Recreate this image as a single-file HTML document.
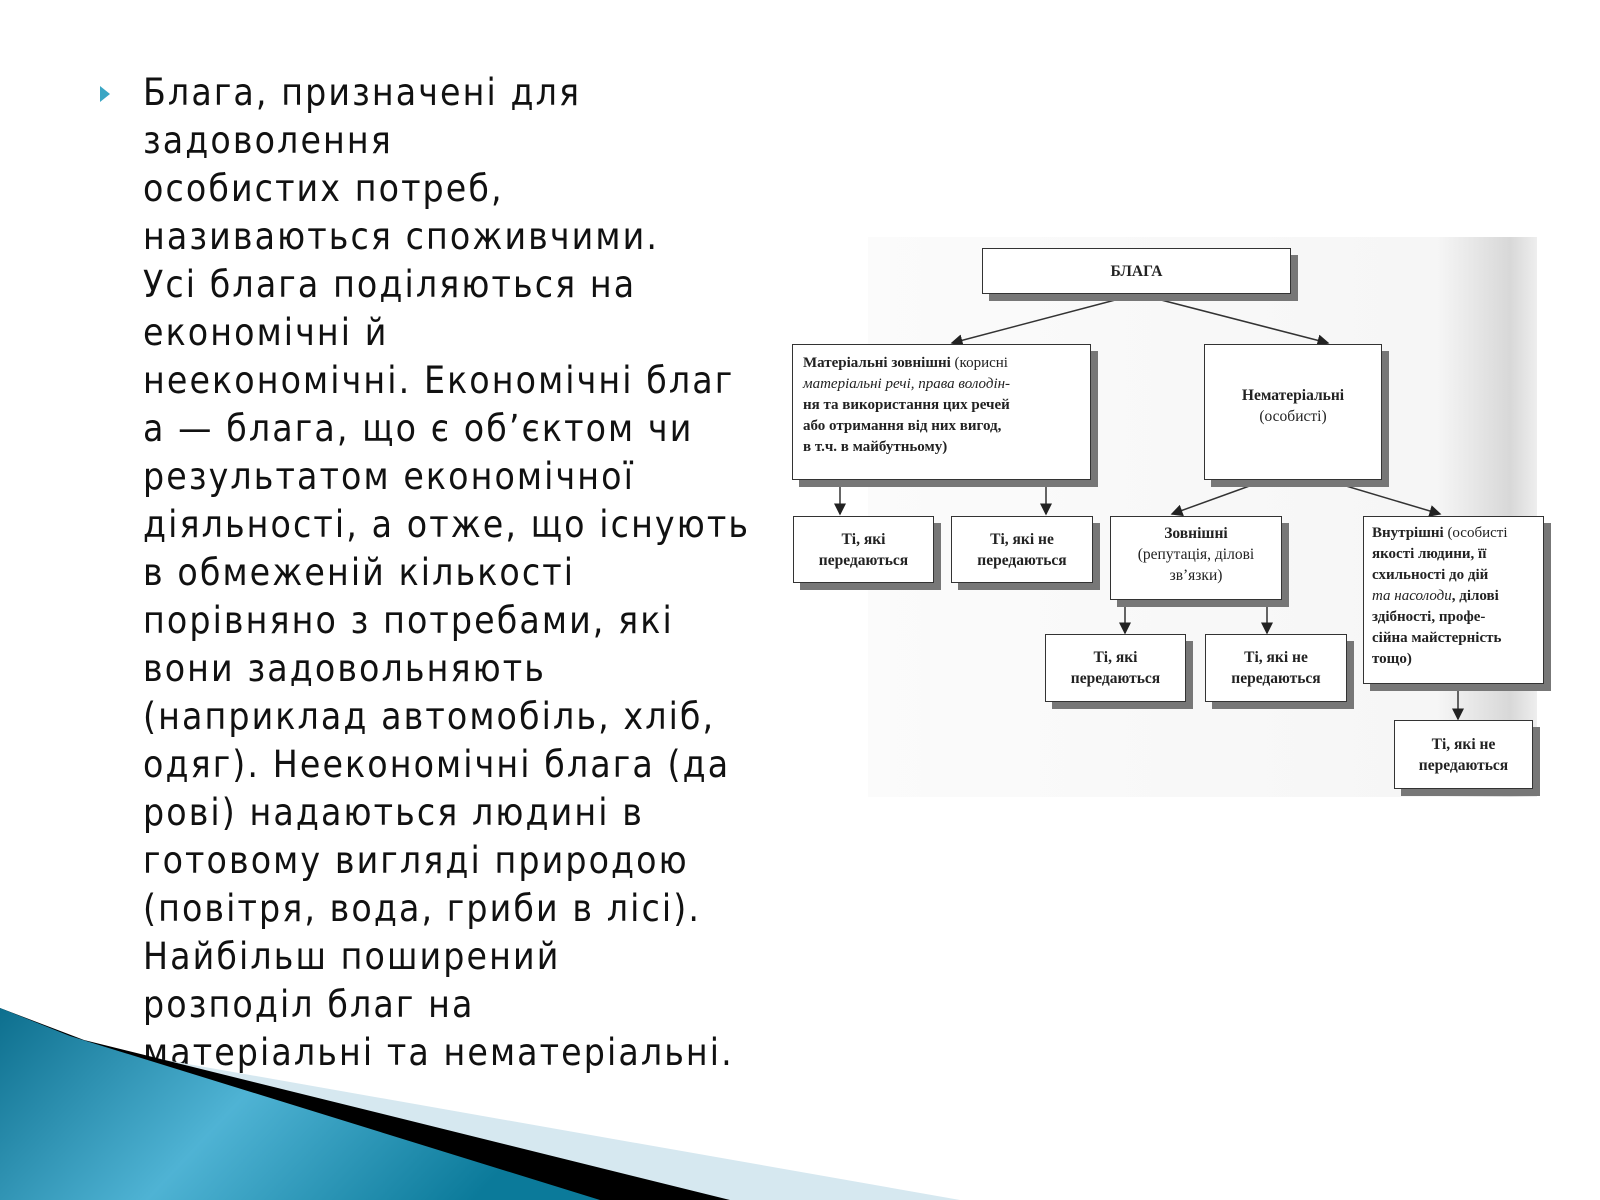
<!DOCTYPE html>
<html><head><meta charset="utf-8"><style>
body{margin:0;width:1600px;height:1200px;position:relative;overflow:hidden;background:#fff;font-family:"DejaVu Sans Condensed","DejaVu Sans","Liberation Sans",sans-serif}
#txt{position:absolute;left:143px;top:69px;font-size:37px;line-height:48px;color:#111;white-space:nowrap;letter-spacing:2.1px}
.bul{position:absolute;left:100px;top:86px;width:0;height:0;border-left:10px solid #3aa6c4;border-top:8px solid transparent;border-bottom:8px solid transparent}
#dg{position:absolute;left:868px;top:237px;width:669px;height:560px;background:linear-gradient(90deg,#fbfbfb 0%,#f6f6f6 85%,#d8d8d8 96%,#eee 100%)}
#d{position:absolute;left:-10px;top:-7px;width:1600px;height:1200px}
.b{position:absolute;background:#fff;border:1.5px solid #333;box-shadow:7px 7px 0 #777;font-family:"Liberation Serif",serif;font-size:15.5px;font-weight:bold;color:#222;box-sizing:border-box;line-height:21px}
.c{text-align:center;display:flex;align-items:center;justify-content:center}
i{font-style:italic;font-weight:normal}
.n{font-weight:normal}
</style></head><body>
<div class="bul"></div>
<div id="txt">Блага, призначені для<br>задоволення<br>особистих потреб,<br>називаються споживчими.<br>Усі блага поділяються на<br>економічні й<br>неекономічні. Економічні благ<br>а — блага, що є об’єктом чи<br>результатом економічної<br>діяльності, а отже, що існують<br>в обмеженій кількості<br>порівняно з потребами, які<br>вони задовольняють<br>(наприклад автомобіль, хліб,<br>одяг). Неекономічні блага (да<br>рові) надаються людині в<br>готовому вигляді природою<br>(повітря, вода, гриби в лісі).<br>Найбільш поширений<br>розподіл благ на<br>матеріальні та нематеріальні.</div>
<div id="dg"></div>
<svg style="position:absolute;left:0;top:0" width="1600" height="1200">
<defs><linearGradient id="g" x1="0" y1="0" x2="1" y2="0.3"><stop offset="0" stop-color="#0d6f8e"/><stop offset="0.5" stop-color="#4fb3d4"/><stop offset="1" stop-color="#0b7a9a"/></linearGradient></defs>
<polygon points="148,1057 960,1200 720,1200" fill="#d6e8f0"/>
<polygon points="0,1008 84,1040 730,1200 0,1200" fill="#000"/>
<polygon points="0,1008 70,1036 600,1200 0,1200" fill="url(#g)"/>
</svg>
<div id="d">
<svg style="position:absolute;left:0;top:0" width="1600" height="1200">
<defs><marker id="a" markerWidth="8" markerHeight="8" refX="7" refY="4" orient="auto"><path d="M0,0L8,4L0,8z" fill="#222"/></marker></defs>
<g stroke="#333" stroke-width="1.5" fill="none" marker-end="url(#a)">
<line x1="1148" y1="301" x2="962" y2="350"/>
<line x1="1148" y1="301" x2="1338" y2="350"/>
<line x1="850" y1="487" x2="850" y2="521"/>
<line x1="1056" y1="487" x2="1056" y2="521"/>
<line x1="1276" y1="487" x2="1182" y2="521"/>
<line x1="1336" y1="487" x2="1450" y2="521"/>
<line x1="1135" y1="607" x2="1135" y2="640"/>
<line x1="1277" y1="607" x2="1277" y2="640"/>
<line x1="1468" y1="691" x2="1468" y2="726"/>
</g>
</svg>
<div class="b c" style="left:992px;top:255px;width:309px;height:46px">БЛАГА</div>
<div class="b" style="left:802px;top:351px;width:299px;height:136px;padding:8px 10px;font-size:15px">Матеріальні зовнішні <span class="n">(корисні</span><br><i>матеріальні речі, права володін-</i><br>ня та використання цих речей<br>або отримання від них вигод,<br>в т.ч. в майбутньому)</div>
<div class="b c" style="left:1214px;top:351px;width:178px;height:136px;flex-direction:column;justify-content:flex-start;padding-top:40px">Нематеріальні<br><span class="n">(особисті)</span></div>
<div class="b c" style="left:803px;top:523px;width:141px;height:67px">Ті, які<br>передаються</div>
<div class="b c" style="left:961px;top:523px;width:142px;height:67px">Ті, які не<br>передаються</div>
<div class="b c" style="left:1120px;top:523px;width:172px;height:84px;align-items:flex-start;padding-top:6px"><span>Зовнішні<br><span class="n">(репутація, ділові<br>зв’язки)</span></span></div>
<div class="b" style="left:1373px;top:523px;width:181px;height:168px;padding:6px 8px;font-size:15px;overflow:hidden;white-space:nowrap">Внутрішні <span class="n">(особисті</span><br>якості людини, її<br>схильності до дій<br><i>та насолоди</i>, ділові<br>здібності, профе-<br>сійна майстерність<br>тощо)</div>
<div class="b c" style="left:1055px;top:641px;width:141px;height:68px">Ті, які<br>передаються</div>
<div class="b c" style="left:1215px;top:641px;width:142px;height:68px">Ті, які не<br>передаються</div>
<div class="b c" style="left:1404px;top:727px;width:139px;height:69px">Ті, які не<br>передаються</div>
</div>
</body></html>
